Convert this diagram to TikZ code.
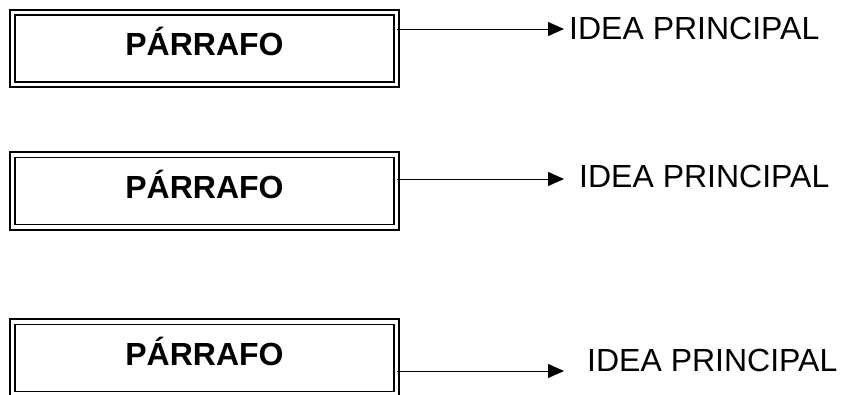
\documentclass[tikz,border=0pt]{standalone}
\usepackage{fontspec}
\setmainfont{Liberation Sans}
\usetikzlibrary{arrows.meta}
\begin{document}
\begin{tikzpicture}[x=1pt, y=-1pt,
    caja/.style={draw, double, line width=1.7pt, double distance=3.6pt,
      minimum width=384.2pt, minimum height=72.2pt, inner sep=0pt, outer sep=0pt,
      text height=24pt, text depth=10pt, font=\fontsize{32}{38}\selectfont\bfseries},
    idea/.style={anchor=base west, inner sep=0pt, font=\fontsize{32}{38}\selectfont},
    flecha/.style={line width=1pt, -{Triangle[length=16pt, width=14pt]}}]
  \useasboundingbox (0,0) rectangle (844,394);

  \foreach \n/\yc/\ya/\xt/\yt in {1/48.5/29/569/39.5, 2/191/179/579/187.5, 3/358/371/587/371} {
      \node[caja] (p\n) at (204.5,\yc) {PÁRRAFO};
      \coordinate (f\n) at (564,\ya);
      \node[idea] (i\n) at (\xt,\yt) {IDEA PRINCIPAL};
      \draw[flecha] (p\n.east |- f\n) -- (f\n);
    }
\end{tikzpicture}
\end{document}
